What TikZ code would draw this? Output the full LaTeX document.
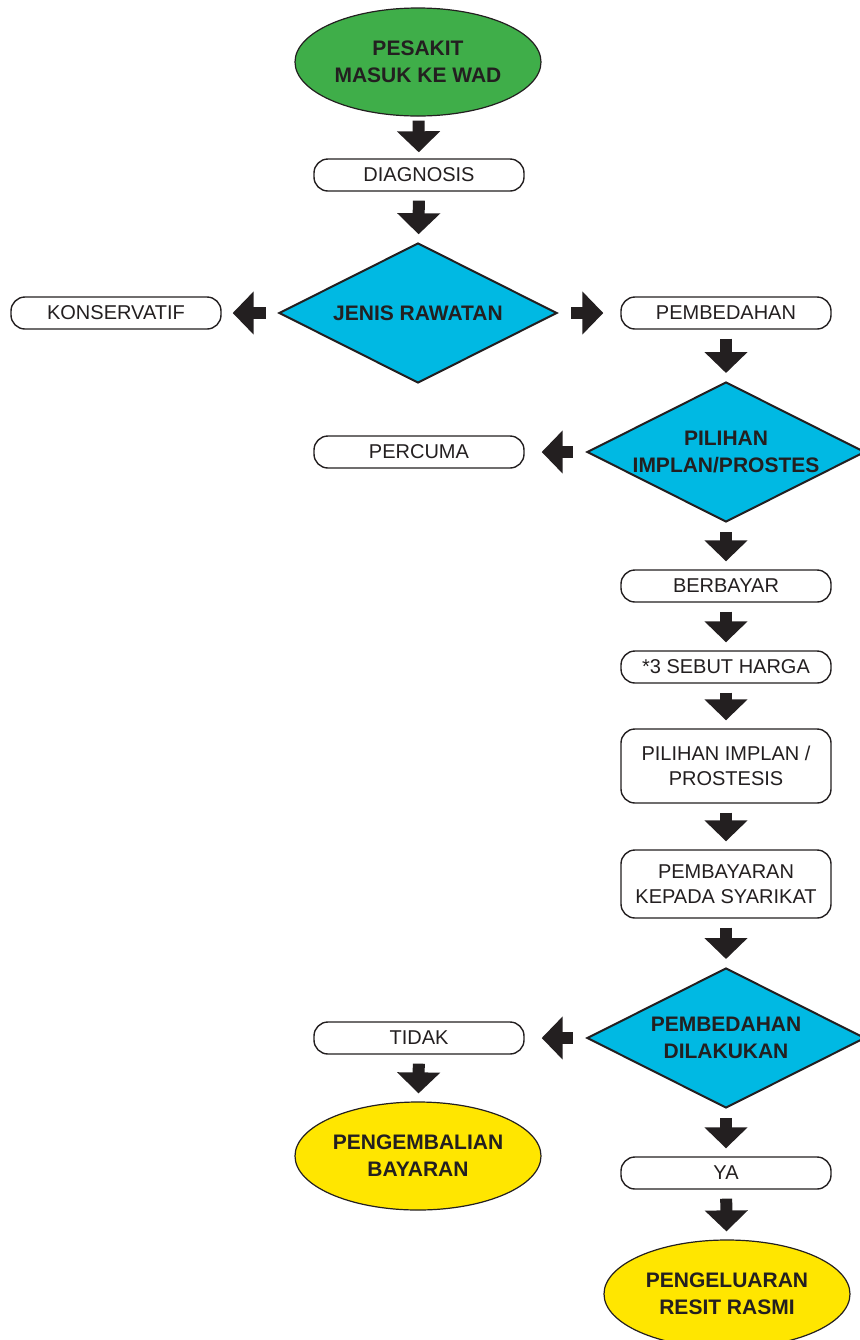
\documentclass[tikz,border=0pt]{standalone}
\usepackage{fontspec}
\setmainfont{Liberation Sans}
\usetikzlibrary{arrows.meta}
\usetikzlibrary{shapes.geometric}
\usetikzlibrary{positioning}
\definecolor{hijau}{HTML}{3FAE49}
\definecolor{biru}{HTML}{00B9E3}
\definecolor{kuning}{HTML}{FFE600}
\definecolor{hitam}{HTML}{231F20}
\tikzset{
  kotak/.style={draw=hitam, line width=0.7pt, rounded corners=7pt, fill=white, align=center, minimum width=105pt, minimum height=#1, inner sep=0pt, text=hitam, font=\fontsize{10}{12.5}\selectfont},
  kotak/.default=16pt,
  keputusan/.style={diamond, aspect=2, draw=hitam, line width=1pt, fill=biru, minimum width=139pt, minimum height=70pt, inner sep=0pt, align=center, text=hitam, font=\fontsize{10.5}{13.5}\selectfont\bfseries},
  terminal/.style={ellipse, draw=hitam, line width=0.6pt, fill=#1, minimum width=123pt, minimum height=54pt, inner sep=0pt, align=center, text=hitam, font=\fontsize{10.5}{13.5}\selectfont\bfseries},
  panah/.style={hitam, line width=6pt, -{Triangle[width=21pt, length=10.5pt]}, shorten <=4.5pt, shorten >=4pt},
  panahsisi/.style={panah, shorten <=6.5pt, shorten >=8.5pt},
}

\begin{document}
\begin{tikzpicture}[x=0.5pt, y=-0.5pt]
  \useasboundingbox (0,0) rectangle (859,1340);
  % lajur tengah
  \node[terminal=hijau] (masuk) at (418,62) {PESAKIT\\MASUK KE WAD};
  \node[kotak] (diag) at (419,175) {DIAGNOSIS};
  \node[keputusan] (jenis) at (418,313) {JENIS RAWATAN};
  \node[kotak] (konservatif) at (116,313) {KONSERVATIF};
  \node[kotak] (pembedahan) at (726,313) {PEMBEDAHAN};
  % lajur kanan
  \node[keputusan] (implan) at (726,452) {PILIHAN\\IMPLAN/PROSTES};
  \node[kotak] (percuma) at (419,452) {PERCUMA};
  \node[kotak] (berbayar) at (726,586) {BERBAYAR};
  \node[kotak] (harga) at (726,667) {*3 SEBUT HARGA};
  \node[kotak=37pt] (pilihan) at (726,766) {PILIHAN IMPLAN /\\PROSTESIS};
  \node[kotak=34pt] (bayar) at (726,884) {PEMBAYARAN\\KEPADA SYARIKAT};
  \node[keputusan] (dilakukan) at (726,1038) {PEMBEDAHAN\\DILAKUKAN};
  \node[kotak] (tidak) at (419,1038) {TIDAK};
  \node[terminal=kuning] (balik) at (418,1156) {PENGEMBALIAN\\BAYARAN};
  \node[kotak] (ya) at (726,1173) {YA};
  \node[terminal=kuning] (resit) at (727,1294) {PENGELUARAN\\RESIT RASMI};

  \draw[panah, shorten <=2pt, shorten >=3pt] (masuk) -- (diag);
  \draw[panah] (diag) -- (jenis);
  \draw[panahsisi, shorten <=6pt, shorten >=5.5pt] (jenis) -- (konservatif);
  \draw[panahsisi] (jenis) -- (pembedahan);
  \draw[panah] (pembedahan) -- (implan);
  \draw[panahsisi] (implan) -- (percuma);
  \draw[panah] (implan) -- (berbayar);
  \draw[panah] (berbayar) -- (harga);
  \draw[panah] (harga) -- (pilihan);
  \draw[panah] (pilihan) -- (bayar);
  \draw[panah] (bayar) -- (dilakukan);
  \draw[panahsisi] (dilakukan) -- (tidak);
  \draw[panah] (tidak) -- (balik);
  \draw[panah] (dilakukan) -- (ya);
  \draw[panah] (ya) -- (resit);
\end{tikzpicture}
\end{document}
